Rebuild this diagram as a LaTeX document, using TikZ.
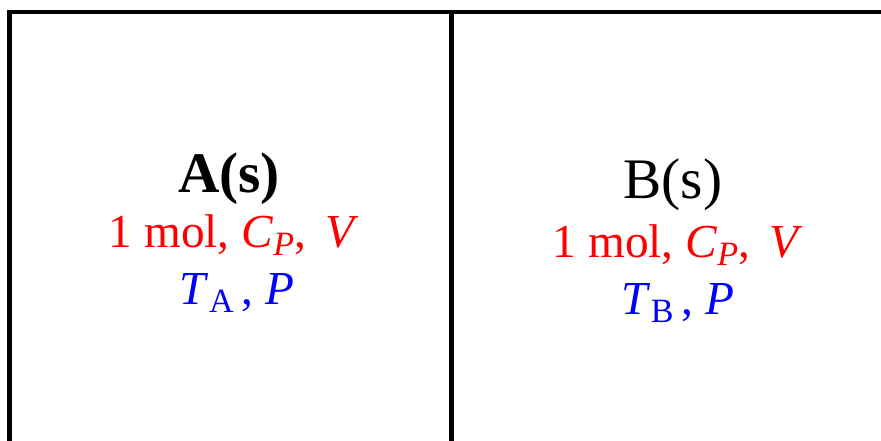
\documentclass[tikz,border=0pt]{standalone}
\usepackage{fontspec}
\setmainfont{Liberation Serif}
\definecolor{vred}{RGB}{255,0,0}
\definecolor{vblue}{RGB}{0,0,255}
\newcommand{\lowsub}[1]{\raisebox{-0.35ex}{\scalebox{0.72}{#1}}}
\begin{document}
\begin{tikzpicture}[x=0.75pt,y=-0.75pt,
  wall/.style={line width=3.4pt, line join=miter},
  title/.style={anchor=base, inner sep=0pt, font=\fontsize{43}{50}\selectfont},
  prop/.style={anchor=base, inner sep=0pt, text=vred, font=\fontsize{35.5}{42}\selectfont},
  state/.style={anchor=base, inner sep=0pt, text=vblue, font=\fontsize{35.5}{42}\selectfont}]
\useasboundingbox (0,0) rectangle (881,441);
\draw[wall] (9.5,460) -- (9.5,12) -- (900,12);
\draw[wall] (451.5,12) -- (451.5,460);
\node[title, font=\bfseries\fontsize{43}{50}\selectfont] (a1) at (229,193) {A(s)};
\node[prop] (a2) at (234,248) {1 mol, \textit{C}\lowsub{\textit{P}},\, \textit{V}};
\node[state] (a3) at (237,305) {\textit{T}\lowsub{A}\,, \textit{P}};
\node[title] (b1) at (673,199) {B(s)};
\node[prop] (b2) at (678,258) {1 mol, \textit{C}\lowsub{\textit{P}},\, \textit{V}};
\node[state] (b3) at (678,315) {\textit{T}\lowsub{B}\,, \textit{P}};
\end{tikzpicture}
\end{document}
